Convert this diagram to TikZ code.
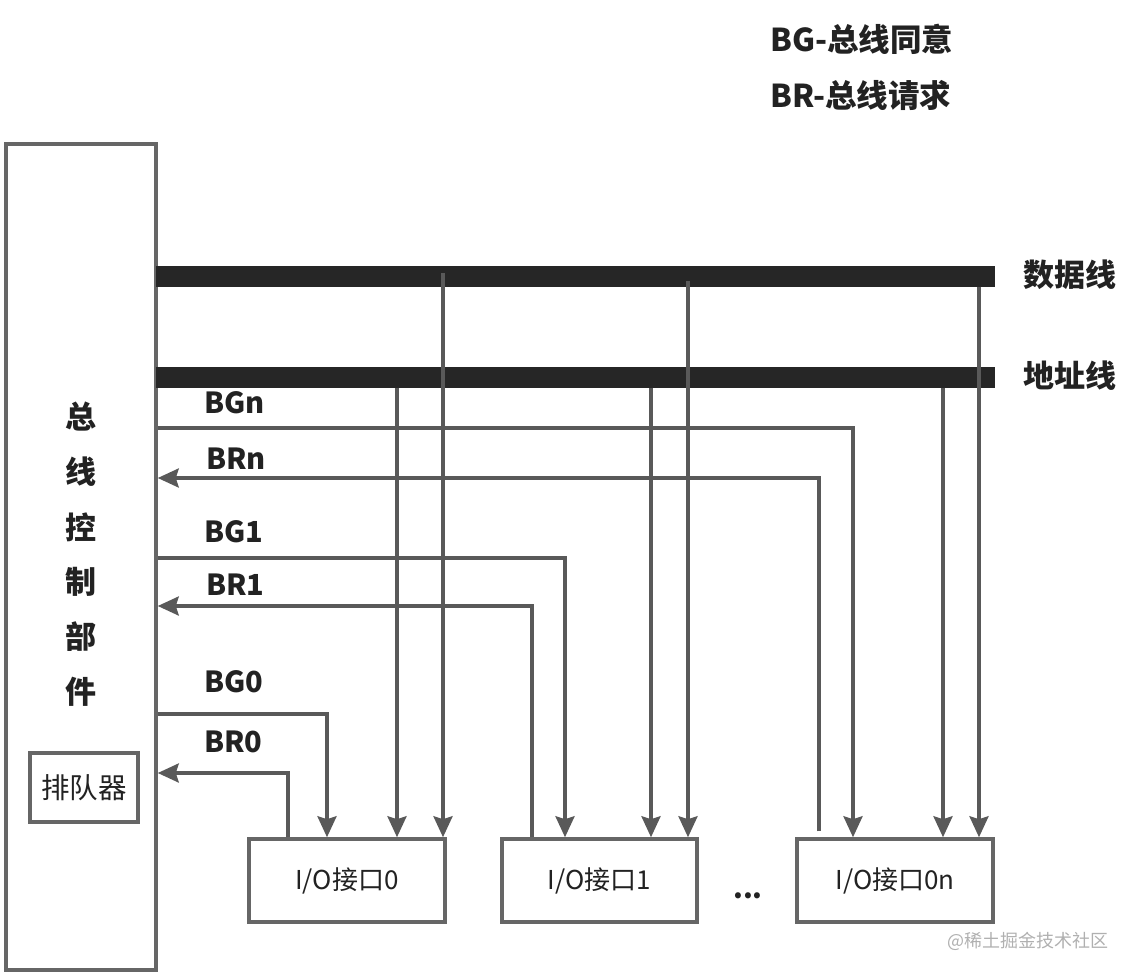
\documentclass[tikz,border=0pt]{standalone}
\usepackage{fontspec}
\setmainfont{Noto Sans CJK SC}
\usetikzlibrary{arrows.meta,calc}
\definecolor{linegray}{HTML}{595959}
\definecolor{boxgray}{HTML}{666666}
\definecolor{busblack}{HTML}{262626}
\definecolor{txt}{HTML}{222222}
\definecolor{wm}{HTML}{B0B0B0}
\tikzset{
  box/.style={draw=boxgray, line width=3.5pt, fill=white, inner sep=0pt},
  bus/.style={fill=busblack, draw=none, inner sep=0pt, minimum height=21pt},
  conn/.style={draw=linegray, line width=3.5pt},
  arr/.style={conn, -{Stealth[length=21pt,width=19pt,inset=3pt]}},
  sig/.style={font=\fontsize{29}{34}\selectfont\bfseries, text=txt, anchor=base west, inner sep=0pt},
  vchar/.style={font=\fontsize{31}{36}\selectfont\bfseries, text=txt, inner sep=0pt},
  iotext/.style={font=\fontsize{26}{30}\selectfont, text=txt},
  legend/.style={font=\fontsize{31.5}{36}\selectfont\bfseries, text=txt, anchor=west, inner sep=0pt}
}
\begin{document}
\begin{tikzpicture}[x=1pt,y=-1pt]
\useasboundingbox (0,0) rectangle (1134,977);
% main control box
\node[box, minimum width=150pt, minimum height=826pt] (ctrl) at (81,557) {};
\foreach \c [count=\i from 0] in {总,线,控,制,部,件}{
  \node[vchar] (ch\i) at (81,{417+55*\i}) {\c};
}
\node[box, minimum width=108pt, minimum height=69pt, font=\fontsize{28.5}{32}\selectfont, text=txt] (queue) at (84,787.5) {排队器};
% buses
\node[bus, minimum width=839pt] (databus) at (575.5,276) {};
\node[bus, minimum width=839pt] (addrbus) at (575.5,377) {};
\node[legend, font=\fontsize{31}{36}\selectfont\bfseries] (dlab) at (1023,275) {数据线};
\node[legend, font=\fontsize{31}{36}\selectfont\bfseries] (alab) at (1023,376) {地址线};
% legend
\node[legend] (lg1) at (770,39) {BG-总线同意};
\node[legend] (lg2) at (770,95) {BR-总线请求};
% IO boxes
\node[box, minimum width=196pt, minimum height=83pt, iotext] (io0) at (347,880.5) {I/O接口0};
\node[box, minimum width=195pt, minimum height=83pt, iotext] (io1) at (599.5,880.5) {I/O接口1};
\node[box, minimum width=196pt, minimum height=83pt, iotext] (ion) at (895,880.5) {I/O接口0n};
\node[font=\fontsize{28}{30}\selectfont\bfseries, text=txt, anchor=base, inner sep=0pt] (dots) at (748,898) {...};
% x positions of connectors
\coordinate (xBR0) at (288,0);
\coordinate (xBG0) at (327,0);
\coordinate (xA0) at (397,0);
\coordinate (xD0) at (443,0);
\coordinate (xBR1) at (532,0);
\coordinate (xBG1) at (565,0);
\coordinate (xA1) at (651,0);
\coordinate (xD1) at (688,0);
\coordinate (xBRn) at (819,0);
\coordinate (xBGn) at (853,0);
\coordinate (xAn) at (943,0);
\coordinate (xDn) at (979,0);
% y positions
\coordinate (yBGn) at (0,428);
\coordinate (yBRn) at (0,478);
\coordinate (yBG1) at (0,558);
\coordinate (yBR1) at (0,606);
\coordinate (yBG0) at (0,714);
\coordinate (yBR0) at (0,773);
% signal lines
\draw[arr] (ctrl.east |- yBGn) -| (xBGn |- ion.north);
\draw[arr] ($(xBRn |- ion.north)+(0,-6)$) |- (ctrl.east |- yBRn);
\draw[arr] (ctrl.east |- yBG1) -| (xBG1 |- io1.north);
\draw[arr] (xBR1 |- io1.north) |- (ctrl.east |- yBR1);
\draw[arr] (ctrl.east |- yBG0) -| (xBG0 |- io0.north);
\draw[arr] (xBR0 |- io0.north) |- (ctrl.east |- yBR0);
% bus taps
\draw[arr] (xA0 |- addrbus.south) -- (xA0 |- io0.north);
\draw[arr] ($(xD0 |- databus.center)+(0,-3)$) -- (xD0 |- io0.north);
\draw[arr] (xA1 |- addrbus.south) -- (xA1 |- io1.north);
\draw[arr] ($(xD1 |- databus.center)+(0,5)$) -- (xD1 |- io1.north);
\draw[arr] (xAn |- addrbus.south) -- (xAn |- ion.north);
\draw[arr] (xDn |- databus.south) -- (xDn |- ion.north);
% signal labels
\node[sig] (lBGn) at (204,413) {BGn};
\node[sig] (lBRn) at (206,469) {BRn};
\node[sig] (lBG1) at (204,542) {BG1};
\node[sig] (lBR1) at (206,595) {BR1};
\node[sig] (lBG0) at (204,692) {BG0};
\node[sig] (lBR0) at (204,752) {BR0};
% watermark
\node[font=\fontsize{18}{20}\selectfont, text=wm] (wmark) at (1028,941) {@稀土掘金技术社区};
\end{tikzpicture}
\end{document}
